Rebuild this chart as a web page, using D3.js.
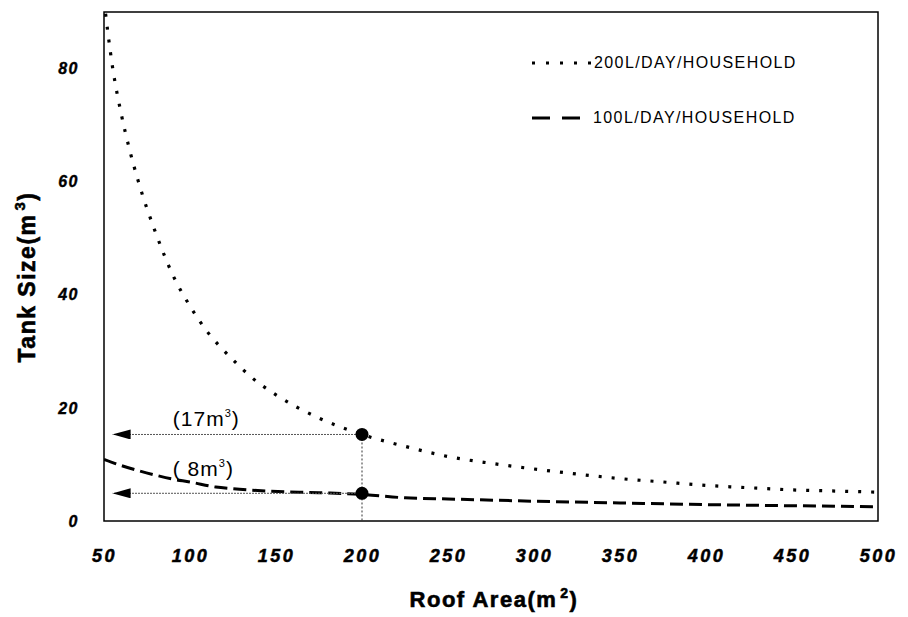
<!DOCTYPE html>
<html>
<head>
<meta charset="utf-8">
<script src="https://cdn.jsdelivr.net/npm/d3@7"></script>
<style>
  body { margin: 0; background: #fff; }
  svg { font-family: "Liberation Sans", Arial, sans-serif; }
</style>
</head>
<body>
<script>
// Tank size vs roof area
const roofArea200 = [50, 55, 60, 65, 70, 80, 90, 100, 110, 125, 135, 150, 175, 200, 225, 250, 275, 300, 325, 350, 375, 400, 430, 450, 475, 500]
const tank200 = [92, 80.2, 72, 65.5, 60, 51, 43.5, 38, 33.5, 28.5, 25.6, 22.3, 18.2, 15.3, 13.2, 11.4, 10.2, 9.2, 8.3, 7.5, 6.9, 6.3, 5.8, 5.5, 5.3, 5.1]

const roofArea100 = [50, 60, 70, 80, 90, 100, 115, 125, 145, 175, 200, 225, 250, 300, 350, 400, 450, 500]
const tank100 = [10.9, 9.8, 8.9, 8.1, 7.4, 6.9, 6.0, 5.7, 5.3, 5.0, 4.7, 4.1, 3.9, 3.5, 3.2, 2.9, 2.7, 2.5]

const xTicks = [50, 100, 150, 200, 250, 300, 350, 400, 450, 500]
const yTicks = [0, 20, 40, 60, 80]

// marked points at 200 m2 and their labels
const markArea = [200, 200]
const markTank = [15.3, 4.9]
const markLabels = ["(17m", "( 8m"]
const labelArea = [90, 90]
const labelTank = [16.8, 7.9]

const legendNames = ["200L/DAY/HOUSEHOLD", "100L/DAY/HOUSEHOLD"]

const W = 908, H = 617
const margin = {left: 104, top: 12, right: 30, bottom: 96}
const width = W - margin.left - margin.right
const height = H - margin.top - margin.bottom

const svg = d3.select("body").append("svg")
  .attr("width", W)
  .attr("height", H)

const defs = svg.append("defs")
defs.append("clipPath").attr("id", "plotclip")
  .append("rect").attr("width", width).attr("height", height)

// arrowhead, tip at the end of the line
defs.append("marker")
  .attr("id", "arrow")
  .attr("viewBox", "0 0 18 10")
  .attr("refX", 18).attr("refY", 5)
  .attr("markerWidth", 18).attr("markerHeight", 10)
  .attr("markerUnits", "userSpaceOnUse")
  .attr("orient", "auto")
  .append("path").attr("d", "M0,0 L18,5 L0,10 Z").attr("fill", "#000")

const chart = svg.append("g")
  .attr("transform", `translate(${margin.left}, ${margin.top})`)

const xScale = d3.scaleLinear().domain([50, 500]).range([0, width])
const yScale = d3.scaleLinear().domain([0, 90]).range([height, 0])

// axes (labels only, no tick marks)
const xAxis = chart.append("g")
  .attr("transform", `translate(0, ${height})`)
  .call(d3.axisBottom(xScale).tickValues(xTicks).tickSize(0).tickPadding(28))
xAxis.select(".domain").remove()
xAxis.selectAll("text")
  .style("font-family", "Liberation Sans, Arial, sans-serif")
  .style("font-size", "18px").style("font-weight", "bold").style("font-style", "italic")
  .style("letter-spacing", "2.5px")
  .attr("fill", "#000").attr("stroke", "#000").attr("stroke-width", 0.5)

const yAxis = chart.append("g")
  .call(d3.axisLeft(yScale).tickValues(yTicks).tickSize(0).tickPadding(25))
yAxis.select(".domain").remove()
yAxis.selectAll("text")
  .style("font-family", "Liberation Sans, Arial, sans-serif")
  .style("font-size", "16px").style("font-weight", "bold").style("font-style", "italic")
  .style("letter-spacing", "1.5px")
  .attr("fill", "#000").attr("stroke", "#000").attr("stroke-width", 0.4)

// frame
chart.append("rect")
  .attr("width", width).attr("height", height)
  .attr("fill", "none").attr("stroke", "#000").attr("stroke-width", 1.5)

const line = d3.line()
  .x(d => xScale(d[0]))
  .y(d => yScale(d[1]))
  .curve(d3.curveMonotoneX)

const plot = chart.append("g").attr("clip-path", "url(#plotclip)")

plot.append("path")
  .datum(roofArea200.map((a, i) => [a, tank200[i]]))
  .attr("d", line)
  .attr("fill", "none").attr("stroke", "#000")
  .attr("stroke-width", 3.2).attr("stroke-dasharray", "3,10")

plot.append("path")
  .datum(roofArea100.map((a, i) => [a, tank100[i]]))
  .attr("d", line)
  .attr("fill", "none").attr("stroke", "#000")
  .attr("stroke-width", 3).attr("stroke-dasharray", "13,6")

// arrows from marked points back to the axis
markArea.forEach((a, i) => {
  chart.append("line")
    .attr("x1", xScale(a)).attr("y1", yScale(markTank[i]))
    .attr("x2", xScale(55)).attr("y2", yScale(markTank[i]))
    .attr("stroke", "#555").attr("stroke-width", 1)
    .attr("stroke-dasharray", "2,1")
    .attr("marker-end", "url(#arrow)")
})

// vertical drop line
chart.append("line")
  .attr("x1", xScale(markArea[0])).attr("y1", yScale(markTank[0]))
  .attr("x2", xScale(markArea[0])).attr("y2", yScale(0))
  .attr("stroke", "#333").attr("stroke-width", 1)
  .attr("stroke-dasharray", "2,2")

chart.selectAll("circle.mark")
  .data(markArea)
  .enter()
  .append("circle")
  .attr("class", "mark")
  .attr("cx", d => xScale(d))
  .attr("cy", (d, i) => yScale(markTank[i]))
  .attr("r", 6.5)
  .attr("fill", "#000")

markLabels.forEach((t, i) => {
  const txt = chart.append("text")
    .attr("x", xScale(labelArea[i])).attr("y", yScale(labelTank[i]))
    .style("font-size", "21px").style("letter-spacing", "1px")
    .text(t)
  txt.append("tspan").attr("dy", -9).style("font-size", "11px").text("3")
  txt.append("tspan").attr("dy", 9).text(")")
})

// legend
const legend = svg.append("g")
const legY = [63, 118]
legend.append("line")
  .attr("x1", 532).attr("x2", 592).attr("y1", legY[0]).attr("y2", legY[0])
  .attr("stroke", "#000").attr("stroke-width", 3.2).attr("stroke-dasharray", "3,11")
legend.append("line")
  .attr("x1", 532).attr("x2", 588).attr("y1", legY[1]).attr("y2", legY[1])
  .attr("stroke", "#000").attr("stroke-width", 3).attr("stroke-dasharray", "18,12")
legendNames.forEach((n, i) => {
  legend.append("text")
    .attr("x", 594 - i).attr("y", legY[i] + 5)
    .style("font-size", "16px").style("letter-spacing", "1.4px")
    .text(n)
})

// axis titles
const xTitle = svg.append("text")
  .attr("x", 494).attr("y", 607)
  .attr("text-anchor", "middle")
  .style("font-size", "22px").style("font-weight", "bold").style("letter-spacing", "1.5px")
  .attr("stroke", "#000").attr("stroke-width", 0.6)
  .text("Roof Area(m")
xTitle.append("tspan").attr("dx", 3).attr("dy", -9).style("font-size", "14px").text("2")
xTitle.append("tspan").attr("dy", 9).text(")")

const yTitle = svg.append("text")
  .attr("transform", "translate(35, 277) rotate(-90)")
  .attr("text-anchor", "middle")
  .style("font-size", "23px").style("font-weight", "bold").style("letter-spacing", "1.5px")
  .attr("stroke", "#000").attr("stroke-width", 0.6)
  .text("Tank Size(m")
yTitle.append("tspan").attr("dx", 3).attr("dy", -10).style("font-size", "15px").text("3")
yTitle.append("tspan").attr("dy", 10).text(")")
</script>
</body>
</html>
